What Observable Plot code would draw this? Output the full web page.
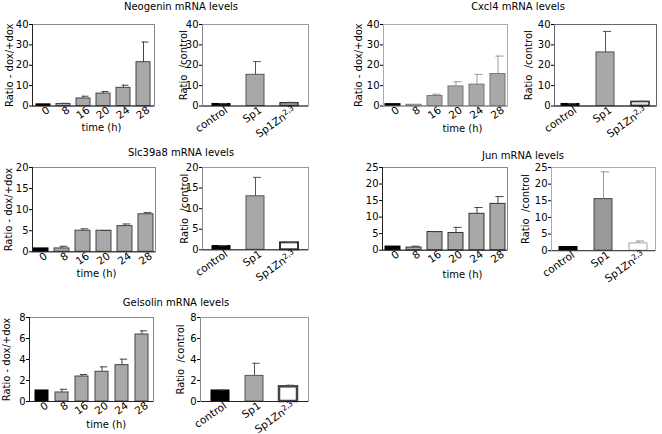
<!DOCTYPE html>
<html><head><meta charset="utf-8">
<script src="https://cdn.jsdelivr.net/npm/d3@7"></script>
<script src="https://cdn.jsdelivr.net/npm/@observablehq/plot@0.6"></script>
<style>
body{margin:0;background:#fff;}
#root{position:relative;width:662px;height:434px;overflow:hidden;font-family:"DejaVu Sans",sans-serif;background:#fff;}
.panel{position:absolute;}
.title{position:absolute;font-size:10px;line-height:12px;color:#000;white-space:nowrap;transform:translateX(-50%);}
svg text{white-space:pre;}
</style></head><body><div id="root"></div>
<script>
// ---- categories ----
const timeCats = ["0","8","16","20","24","28"];
const ctrlCats = ["control","Sp1","Sp1Zn2,3"];
// ---- values (bar heights) and upper error lengths ----
const neoTime = [0.8, 1.0, 3.7, 6.1, 8.9, 21.5];
const neoTimeErr = [0, 0.3, 1.1, 1.0, 1.3, 9.9];
const neoCtrl = [1.0, 15.3, 1.4];
const neoCtrlErr = [0.1, 6.5, 0.4];
const cxcTime = [0.9, 0.6, 4.9, 9.6, 10.5, 15.7];
const cxcTimeErr = [0, 0.1, 0.9, 2.3, 5.0, 8.8];
const cxcCtrl = [1.0, 26.3, 2.0];
const cxcCtrlErr = [0.1, 10.3, 0.3];
const slcTime = [0.8, 0.8, 5.0, 5.0, 6.1, 8.9];
const slcTimeErr = [0, 0.5, 0.45, 0.05, 0.5, 0.4];
const slcCtrl = [0.9, 13.0, 1.7];
const slcCtrlErr = [0.1, 4.6, 0.1];
const junTime = [1.1, 0.8, 5.5, 5.2, 11.0, 14.0];
const junTimeErr = [0, 0.4, 0.1, 1.7, 1.9, 2.2];
const junCtrl = [1.1, 15.5, 2.2];
const junCtrlErr = [0, 8.2, 0.7];
const gelTime = [1.05, 0.86, 2.38, 2.83, 3.46, 6.38];
const gelTimeErr = [0, 0.3, 0.19, 0.47, 0.57, 0.35];
const gelCtrl = [1.05, 2.44, 1.4];
const gelCtrlErr = [0.05, 1.2, 0.15];
// ---- tick values ----
const ticks40 = [0,10,20,30,40];
const ticks20 = [0,5,10,15,20];
const ticks25 = [0,5,10,15,20,25];
const ticks8 = [0,2,4,6,8];
// ---- titles ----
const titles = [
  {t:"Neogenin mRNA levels", x:181, y:7},
  {t:"Cxcl4 mRNA levels", x:518, y:7},
  {t:"Slc39a8 mRNA levels", x:181, y:153},
  {t:"Jun mRNA levels", x:523, y:156},
  {t:"Gelsolin mRNA levels", x:176, y:303}
];
const yTime = "Ratio - dox/+dox";
const yCtrl = "Ratio  /control";
const xTime = "time (h)";

const G = "#a8a8a8";
const timeStyle = {fills:["#000",G,G,G,G,G], strokes:["#000","#444","#444","#444","#444","#444"], sw:[1,1,1,1,1,1], pi:0.28, po:0.05};
const panels = [
  {fl:32, ft:23.5, fr:154, fb:105, ymax:40, ticks:ticks40, cats:timeCats, vals:neoTime, errs:neoTimeErr, ...timeStyle,
   err:"#444", frame:"#888", axis:"#222", left:"#222", ylabel:yTime, ylx:9, xlabel:xTime, xlx:101, xly:127},
  {fl:202, ft:23.5, fr:308, fb:105, ymax:40, ticks:ticks40, cats:ctrlCats, vals:neoCtrl, errs:neoCtrlErr,
   fills:["#000",G,G], strokes:["#000","#555","#333"], sw:[1,1,1.3], pi:0.47, po:0.29,
   err:"#555", frame:"#999", axis:"#222", left:"#888", ylabel:yCtrl, ylx:183},
  {fl:383, ft:23.5, fr:507, fb:105, ymax:40, ticks:ticks40, cats:timeCats, vals:cxcTime, errs:cxcTimeErr,
   fills:["#000",G,G,G,G,G], strokes:["#000","#777","#777","#777","#777","#777"], sw:[1,1,1,1,1,1], pi:0.3, po:0.1,
   err:"#999", frame:"#aaa", axis:"#777", left:"#aaa", ylabel:yTime, ylx:358, xlabel:xTime, xlx:462, xly:128},
  {fl:554, ft:23.5, fr:656, fb:105, ymax:40, ticks:ticks40, cats:ctrlCats, vals:cxcCtrl, errs:cxcCtrlErr,
   fills:["#000",G,"#e4e4e4"], strokes:["#000","#555","#333"], sw:[1,1,1.6], pi:0.49, po:0.2,
   err:"#555", frame:"#666", axis:"#222", left:"#666", ylabel:yCtrl, ylx:528},
  {fl:32, ft:166.7, fr:155, fb:251, ymax:20, ticks:ticks20, cats:timeCats, vals:slcTime, errs:slcTimeErr, ...timeStyle,
   err:"#444", frame:"#888", axis:"#222", left:"#222", ylabel:yTime, ylx:8, xlabel:xTime, xlx:96, xly:273},
  {fl:202, ft:166.7, fr:308, fb:249, ymax:20, ticks:ticks20, cats:ctrlCats, vals:slcCtrl, errs:slcCtrlErr,
   fills:["#000",G,"#fff"], strokes:["#000","#555","#333"], sw:[1,1,2], pi:0.47, po:0.29,
   err:"#555", frame:"#999", axis:"#222", left:"#888", ylabel:yCtrl, ylx:184},
  {fl:382, ft:167.3, fr:507, fb:250, ymax:25, ticks:ticks25, cats:timeCats, vals:junTime, errs:junTimeErr,
   fills:["#000",G,G,G,G,G], strokes:["#000","#333","#333","#333","#333","#333"], sw:[1,1,1,1,1,1], pi:0.3, po:0.1,
   err:"#444", frame:"#888", axis:"#222", left:"#222", xlabel:xTime, xlx:462, xly:275},
  {fl:551, ft:167.3, fr:655, fb:250.5, ymax:25, ticks:ticks25, cats:ctrlCats, vals:junCtrl, errs:junCtrlErr,
   fills:["#000","#999","#fff"], strokes:["#000","#444","#bbb"], sw:[1,1,1.3], pi:0.5, po:0.23,
   err:"#999", frame:"#aaa", axis:"#333", left:"#aaa", ylabel:yCtrl, ylx:525},
  {fl:29.3, ft:316.7, fr:153.3, fb:400.7, ymax:8, ticks:ticks8, cats:timeCats, vals:gelTime, errs:gelTimeErr,
   fills:["#000",G,G,G,G,G], strokes:["#000","#444","#444","#444","#444","#444"], sw:[1,1,1,1,1,1], pi:0.35, po:0.13,
   err:"#444", frame:"#888", axis:"#222", left:"#222", ylabel:yTime, ylx:7, xlabel:xTime, xlx:106, xly:424},
  {fl:200, ft:316.7, fr:308, fb:400.7, ymax:8, ticks:ticks8, cats:ctrlCats, vals:gelCtrl, errs:gelCtrlErr,
   fills:["#000",G,"#fff"], strokes:["#000","#555","#444"], sw:[1,1,2.5], pi:0.47, po:0.29,
   err:"#555", frame:"#999", axis:"#222", left:"#888", ylabel:yCtrl, ylx:180}
];

const root = document.getElementById("root");
const mL=46, mT=10, mR=10, mB=52;

function makePanel(s){
  const W = s.fr - s.fl, H = s.fb - s.ft, n = s.cats.length;
  const step = W/(n - s.pi + 2*s.po), bw = step*(1 - s.pi);
  const data = s.cats.map((c,i)=>({c, v:s.vals[i], e:s.errs[i], i}));
  const errData = data.filter(d=>d.e>0);
  const marks = [];
  marks.push(Plot.frame({stroke:s.frame}));
  data.forEach(d=>marks.push(Plot.barY([d], {x:"c", y:"v", fill:s.fills[d.i], stroke:s.strokes[d.i], strokeWidth:s.sw[d.i]})));
  marks.push(Plot.ruleX(errData, {x:"c", y1:"v", y2:d=>d.v+d.e, stroke:s.err}));
  marks.push(Plot.tickY(errData, {x:"c", y:d=>d.v+d.e, stroke:s.err, insetLeft:bw/2-2, insetRight:bw/2-6}));
  marks.push(Plot.ruleY([0], {stroke:s.axis}));
  marks.push(Plot.frame({anchor:"left", stroke:s.left}));
  marks.push(Plot.axisY({ticks:s.ticks, tickSize:3, tickPadding:1, fontSize:10, label:null, tickFormat:d=>String(d)}));
  marks.push(Plot.axisX({tickRotate:-35, tickSize:0, tickPadding:3, dx:5, fontSize:10.5, label:null}));
  if (s.ylabel) marks.push(Plot.text([s.ylabel], {text:d=>d, frameAnchor:"left", textAnchor:"middle", lineAnchor:"middle", rotate:-90, dx:s.ylx - s.fl, fontSize:10}));
  if (s.xlabel) marks.push(Plot.text([s.xlabel], {text:d=>d, frameAnchor:"bottom", textAnchor:"middle", lineAnchor:"middle", dx:s.xlx-(s.fl+s.fr)/2, dy:s.xly - s.fb, fontSize:10}));
  const p = Plot.plot({
    width: W+mL+mR, height: H+mT+mB,
    marginLeft:mL, marginRight:mR, marginTop:mT, marginBottom:mB,
    x:{domain:s.cats, paddingInner:s.pi, paddingOuter:s.po},
    y:{domain:[0, s.ymax]},
    style:{fontFamily:"DejaVu Sans", background:"transparent", overflow:"visible", color:"#000"},
    marks
  });
  p.querySelectorAll("text").forEach(t=>{
    if (t.textContent === "Sp1Zn2,3") {
      t.textContent = "Sp1Zn";
      const ts = document.createElementNS("http://www.w3.org/2000/svg","tspan");
      ts.setAttribute("dy","-0.45em");
      ts.setAttribute("font-size","7.5");
      ts.textContent = "2,3";
      t.appendChild(ts);
    }
  });
  const div = document.createElement("div");
  div.className = "panel";
  div.style.left = (s.fl - mL) + "px";
  div.style.top = (s.ft - mT) + "px";
  div.style.width = (W+mL+mR) + "px";
  div.appendChild(p);
  root.appendChild(div);
}
panels.forEach(makePanel);
titles.forEach(o=>{
  const d = document.createElement("div");
  d.className = "title";
  d.style.left = o.x + "px";
  d.style.top = (o.y - 6) + "px";
  d.textContent = o.t;
  root.appendChild(d);
});
</script></body></html>
